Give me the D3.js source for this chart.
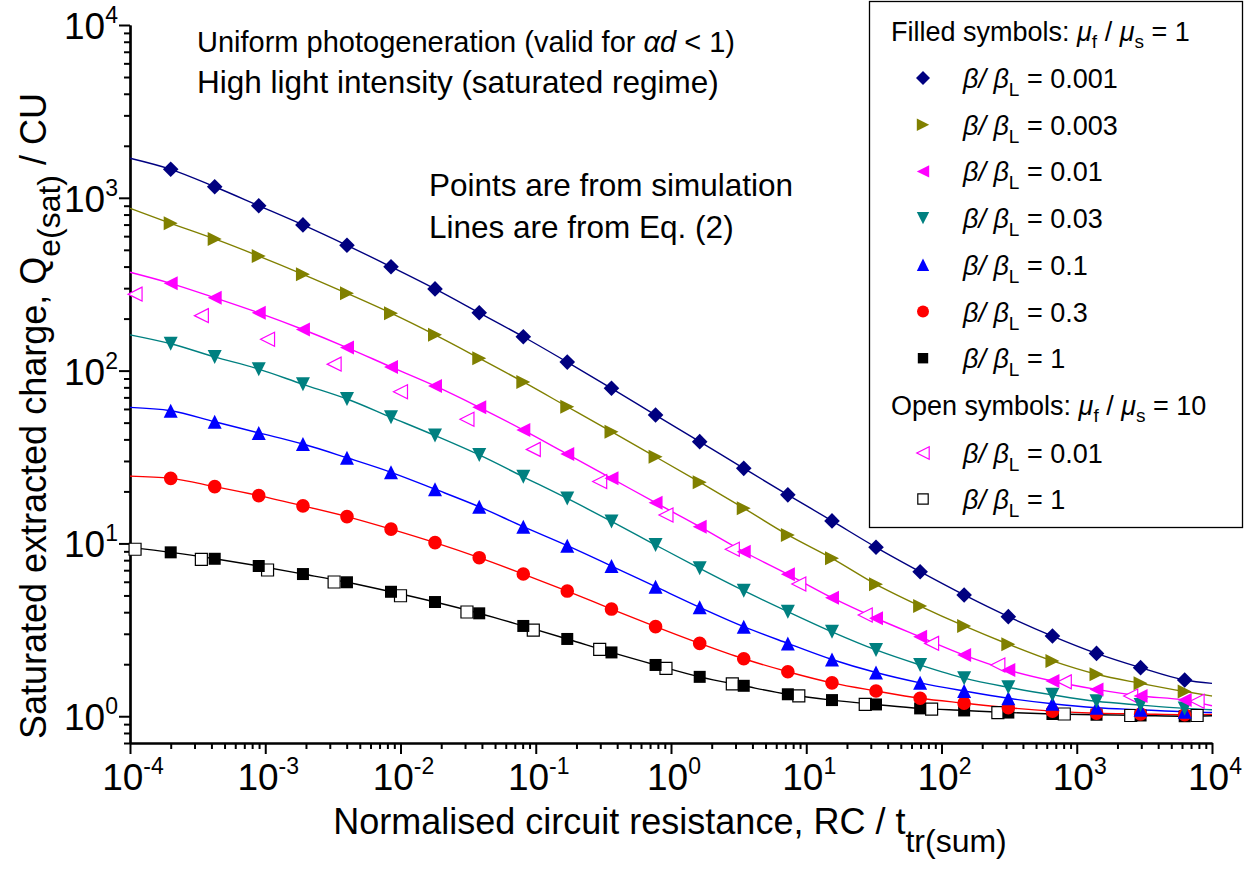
<!DOCTYPE html>
<html>
<head>
<meta charset="utf-8">
<script src="https://cdnjs.cloudflare.com/ajax/libs/d3/7.8.5/d3.min.js"></script>
<style>
  body { margin: 0; background: #fff; }
  text { font-family: Arial, "Liberation Sans", sans-serif; fill: #000; }
</style>
</head>
<body>
<script>
// chart size
var width = 1248;
var height = 871;

// x positions of the simulation points
var filledX = [2.0e-4, 4.23e-4, 8.95e-4, 1.9e-3, 4.02e-3, 8.51e-3, 1.8e-2, 3.82e-2, 8.09e-2, 0.171, 0.363, 0.769,
               1.63, 3.45, 7.31, 15.5, 32.8, 69.5, 147, 312, 661, 1400, 2965, 6281];
var openX = [1.09e-4, 3.37e-4, 1.04e-3, 3.23e-3, 1.0e-2, 3.1e-2, 9.59e-2, 0.297, 0.918, 2.84, 8.81, 27.3,
             84.5, 261, 809, 2506, 7762];

// filled symbols, mu_f / mu_s = 1
var q0001 = [1462, 1159, 900, 697, 531, 399, 297, 216, 157, 112, 79, 55.3, 38.8, 27.2, 19.1, 13.5, 9.5, 6.86, 5.03, 3.77, 2.91, 2.31, 1.91, 1.62];
var q0003 = [712, 578, 460, 361, 280, 215, 161, 118, 86, 61.8, 44.3, 31.7, 22.6, 16.0, 11.2, 8.2, 5.80, 4.34, 3.33, 2.61, 2.09, 1.75, 1.55, 1.39];
var q001 = [320, 264, 216, 173, 136, 105, 81.5, 61.3, 45.3, 32.9, 23.8, 17.2, 12.5, 8.95, 6.63, 4.85, 3.69, 2.88, 2.26, 1.85, 1.60, 1.43, 1.31, 1.24];
var q003 = [143, 120, 102, 83.3, 68.5, 53.7, 42.1, 32.5, 24.3, 18.2, 13.4, 9.79, 7.18, 5.33, 4.03, 3.08, 2.42, 1.98, 1.66, 1.47, 1.33, 1.22, 1.16, 1.11];
var q01 = [58.6, 50.6, 43.6, 37.6, 31.3, 25.8, 20.6, 16.3, 12.5, 9.7, 7.40, 5.62, 4.27, 3.30, 2.64, 2.13, 1.79, 1.56, 1.40, 1.27, 1.18, 1.12, 1.09, 1.06];
var q03 = [23.8, 21.3, 18.9, 16.5, 14.3, 12.1, 10.1, 8.27, 6.65, 5.30, 4.17, 3.30, 2.64, 2.15, 1.81, 1.56, 1.40, 1.27, 1.19, 1.12, 1.07, 1.04, 1.03, 1.02];
var q1 = [8.88, 8.15, 7.40, 6.65, 5.96, 5.25, 4.58, 3.94, 3.33, 2.80, 2.34, 1.98, 1.69, 1.50, 1.34, 1.24, 1.17, 1.11, 1.08, 1.05, 1.03, 1.02, 1.01, 1.00];

// open symbols, mu_f / mu_s = 10
var open001 = [277, 208, 152, 109, 75.5, 52.3, 35.0, 22.8, 14.6, 9.25, 5.82, 3.85, 2.64, 1.98, 1.58, 1.31, 1.22];
var open1 = [9.25, 8.09, 7.02, 5.98, 4.98, 4.01, 3.15, 2.44, 1.89, 1.54, 1.31, 1.17, 1.10, 1.05, 1.03, 1.01, 1.01];

// Eq. (2) lines: value at the left and right end of the axis (middle follows the filled points)
var lineStart = [1694, 869, 371, 161, 61.3, 24.5, 9.49];
var lineEnd = [1.55, 1.31, 1.15, 1.09, 1.05, 1.025, 1.007];

var ratios = ['0.001', '0.003', '0.01', '0.03', '0.1', '0.3', '1'];
var colors = ['#000080', '#808000', '#ff00ff', '#008080', '#0000ff', '#ff0000', '#000000'];
var shapes = ['diamond', 'triRight', 'triLeft', 'triDown', 'triUp', 'circle', 'square'];
var filledY = [q0001, q0003, q001, q003, q01, q03, q1];

var xTickValues = [1e-4, 1e-3, 1e-2, 1e-1, 1e0, 1e1, 1e2, 1e3, 1e4];
var xTickExp = ['-4', '-3', '-2', '-1', '0', '1', '2', '3', '4'];
var yTickValues = [1e0, 1e1, 1e2, 1e3, 1e4];
var yTickExp = ['0', '1', '2', '3', '4'];

var svg = d3.select('body').append('svg')
  .attr('width', width)
  .attr('height', height);

var x = d3.scaleLog().domain([1e-4, 1e4]).range([130, 1212]);
var y = d3.scaleLog().domain([0.7, 1e4]).range([743, 25]);

// symbol paths, centred on 0,0
var symbolPath = function (type, s) {
  if (type === 'diamond') return 'M0,' + (-s) + 'L' + s + ',0L0,' + s + 'L' + (-s) + ',0Z';
  if (type === 'triRight') return 'M' + (-s) + ',' + (-s) + 'L' + s + ',0L' + (-s) + ',' + s + 'Z';
  if (type === 'triLeft') return 'M' + s + ',' + (-s) + 'L' + (-s) + ',0L' + s + ',' + s + 'Z';
  if (type === 'triDown') return 'M' + (-s) + ',' + (-s) + 'L' + s + ',' + (-s) + 'L0,' + s + 'Z';
  if (type === 'triUp') return 'M' + (-s) + ',' + s + 'L' + s + ',' + s + 'L0,' + (-s) + 'Z';
  if (type === 'square') return 'M' + (-s) + ',' + (-s) + 'H' + s + 'V' + s + 'H' + (-s) + 'Z';
  // circle
  return 'M' + s + ',0A' + s + ',' + s + ' 0 1,1 ' + (-s) + ',0A' + s + ',' + s + ' 0 1,1 ' + s + ',0Z';
};
var symbolSize = { diamond: 7.8, triRight: 7, triLeft: 7, triDown: 7, triUp: 7, circle: 6.8, square: 6 };

// axes: major + minor ticks
var minorX = [];
var minorY = [];
[-4, -3, -2, -1, 0, 1, 2, 3].forEach(function (e) {
  for (var m = 2; m <= 9; m++) minorX.push(m * Math.pow(10, e));
});
[0.7, 0.8, 0.9].forEach(function (v) { minorY.push(v); });
[0, 1, 2, 3].forEach(function (e) {
  for (var m = 2; m <= 9; m++) minorY.push(m * Math.pow(10, e));
});

var xAxis = svg.append('g').attr('transform', 'translate(0,743)');
xAxis.call(d3.axisBottom(x).tickValues(xTickValues).tickSize(11).tickSizeOuter(0).tickFormat(''));
xAxis.call(function (g) { g.append('g').call(d3.axisBottom(x).tickValues(minorX).tickSize(6).tickSizeOuter(0).tickFormat('')); });
var yAxis = svg.append('g').attr('transform', 'translate(130,0)');
yAxis.call(d3.axisLeft(y).tickValues(yTickValues).tickSize(11).tickSizeOuter(0).tickFormat(''));
yAxis.call(function (g) { g.append('g').call(d3.axisLeft(y).tickValues(minorY).tickSize(6).tickSizeOuter(0).tickFormat('')); });
svg.selectAll('.domain').attr('stroke', '#000').attr('stroke-width', 2.2);
svg.selectAll('.tick line').attr('stroke', '#000').attr('stroke-width', 2);

// tick labels with superscripts
xTickValues.forEach(function (v, i) {
  var t = svg.append('text')
    .attr('x', x(v) + 3)
    .attr('y', 790)
    .attr('text-anchor', 'middle')
    .style('font-size', '37px');
  t.append('tspan').text('10');
  t.append('tspan').attr('dy', -16).style('font-size', '23px').text(xTickExp[i]);
});
yTickValues.forEach(function (v, i) {
  var t = svg.append('text')
    .attr('x', 118)
    .attr('y', y(v) + 14)
    .attr('text-anchor', 'end')
    .style('font-size', '37px');
  t.append('tspan').text('10');
  t.append('tspan').attr('dy', -16).style('font-size', '23px').text(yTickExp[i]);
});

// axis titles
var xt = svg.append('text')
  .attr('x', 670)
  .attr('y', 834)
  .attr('text-anchor', 'middle')
  .style('font-size', '36px');
xt.append('tspan').text('Normalised circuit resistance, RC / t');
xt.append('tspan').attr('dy', 18).style('font-size', '32px').text('tr(sum)');

var yt = svg.append('text')
  .attr('transform', 'translate(46,416) rotate(-90)')
  .attr('text-anchor', 'middle')
  .style('font-size', '36px');
yt.append('tspan').text('Saturated extracted charge, Q');
yt.append('tspan').attr('dy', 14).style('font-size', '32px').text('e(sat)');
yt.append('tspan').attr('dy', -14).text(' / CU');

// annotations
var a1 = svg.append('text').attr('x', 197).attr('y', 52).style('font-size', '29px');
a1.append('tspan').text('Uniform photogeneration (valid for ');
a1.append('tspan').style('font-style', 'italic').text('\u03b1d');
a1.append('tspan').text(' < 1)');
svg.append('text').attr('x', 197).attr('y', 93).style('font-size', '31.5px')
  .text('High light intensity (saturated regime)');
svg.append('text').attr('x', 429).attr('y', 196).style('font-size', '31.5px')
  .text('Points are from simulation');
svg.append('text').attr('x', 429).attr('y', 238).style('font-size', '31.5px')
  .text('Lines are from Eq. (2)');

// lines from Eq. (2)
var line = d3.line()
  .x(function (d) { return x(d[0]); })
  .y(function (d) { return y(d[1]); })
  .curve(d3.curveMonotoneX);

filledY.forEach(function (vals, i) {
  var pts = [[1e-4, lineStart[i]]];
  filledX.forEach(function (xv, j) { pts.push([xv, vals[j]]); });
  pts.push([1e4, lineEnd[i]]);
  svg.append('path')
    .attr('d', line(pts))
    .attr('fill', 'none')
    .attr('stroke', colors[i])
    .attr('stroke-width', 1.4);
});

// open symbols
var openSeries = [
  { vals: open001, color: '#ff00ff', shape: 'triLeft' },
  { vals: open1, color: '#000000', shape: 'square' }
];
openSeries.forEach(function (s) {
  svg.append('g').selectAll('path')
    .data(openX.map(function (xv, j) { return [xv, s.vals[j]]; }))
    .enter()
    .append('path')
    .attr('transform', function (d) { return 'translate(' + x(d[0]) + ',' + y(d[1]) + ')'; })
    .attr('d', symbolPath(s.shape, symbolSize[s.shape]))
    .attr('fill', '#fff')
    .attr('stroke', s.color)
    .attr('stroke-width', 1.2);
});

// filled symbols, drawn from the bottom series up
for (var i = filledY.length - 1; i >= 0; i--) {
  svg.append('g').selectAll('path')
    .data(filledX.map(function (xv, j) { return [xv, filledY[i][j]]; }))
    .enter()
    .append('path')
    .attr('transform', function (d) { return 'translate(' + x(d[0]) + ',' + y(d[1]) + ')'; })
    .attr('d', symbolPath(shapes[i], symbolSize[shapes[i]]))
    .attr('fill', colors[i]);
}

// legend
var lg = svg.append('g');
lg.append('rect')
  .attr('x', 869.5).attr('y', 1.5)
  .attr('width', 373).attr('height', 526)
  .attr('fill', '#fff')
  .attr('stroke', '#000')
  .attr('stroke-width', 1.3);

var header = function (yy, value) {
  var t = lg.append('text').attr('x', 891).attr('y', yy).style('font-size', '27px');
  t.append('tspan').text(value[0]);
  t.append('tspan').style('font-style', 'italic').text('\u03bc');
  t.append('tspan').attr('dy', 7).style('font-size', '19px').text('f');
  t.append('tspan').attr('dy', -7).text(' / ');
  t.append('tspan').style('font-style', 'italic').text('\u03bc');
  t.append('tspan').attr('dy', 7).style('font-size', '19px').text('s');
  t.append('tspan').attr('dy', -7).text(' = ' + value[1]);
};
var entry = function (yy, label, shape, color, open) {
  lg.append('path')
    .attr('transform', 'translate(923,' + yy + ')')
    .attr('d', symbolPath(shape, symbolSize[shape] - 0.8))
    .attr('fill', open ? '#fff' : color)
    .attr('stroke', open ? color : 'none')
    .attr('stroke-width', 1.2);
  var t = lg.append('text').attr('x', 963).attr('y', yy + 10).style('font-size', '27px');
  t.append('tspan').style('font-style', 'italic').text('\u03b2/ \u03b2');
  t.append('tspan').attr('dy', 8).style('font-size', '19px').text('L');
  t.append('tspan').attr('dy', -8).text(' = ' + label);
};

header(41, ['Filled symbols: ', '1']);
ratios.forEach(function (r, i) {
  entry(78 + i * 46.7, r, shapes[i], colors[i], false);
});
header(415, ['Open symbols: ', '10']);
entry(453, '0.01', 'triLeft', '#ff00ff', true);
entry(499, '1', 'square', '#000000', true);
</script>
</body>
</html>
